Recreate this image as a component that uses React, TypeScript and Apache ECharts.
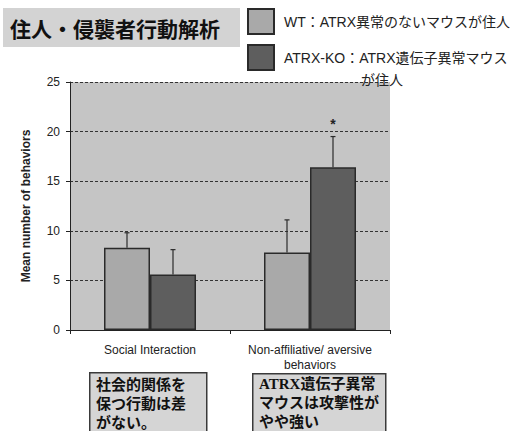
import React, { useEffect, useRef } from "react";
import * as echarts from "echarts";

const categories = ["Social Interaction", "Non-affiliative/ aversive\nbehaviors"];
const seriesNames = ["WT：ATRX異常のないマウスが住人", "ATRX-KO：ATRX遺伝子異常マウス"];
const wtMeans = [8.3, 7.8];
const wtErrorTops = [9.8, 11.1];
const koMeans = [5.6, 16.4];
const koErrorTops = [8.1, 19.5];
const koSignificance = ["", "*"];
const yTicks = { min: 0, max: 25, interval: 5 };
const titleText = "住人・侵襲者行動解析";
const legendContinuation = "が住人";
const note1 = "社会的関係を\n保つ行動は差\nがない。";
const note2 = "ATRX遺伝子異常\nマウスは攻撃性が\nやや強い";
const yAxisName = "Mean number of behaviors";

const CAT_GAP = 0.425;

export default function App() {
  const ref = useRef<HTMLDivElement>(null);
  useEffect(() => {
    if (!ref.current) return;
    const chart = echarts.init(ref.current, null, { renderer: "svg" });
    const latin = "'Liberation Sans', Arial, 'Noto Sans CJK JP', sans-serif";

    const errorSeries = (means: number[], tops: number[], side: number, marks?: string[]) => ({
      type: "custom",
      silent: true,
      z: 5,
      data: means.map((m, i) => [i, m, tops[i], marks ? marks[i] : ""]),
      renderItem: (params: any, api: any) => {
        const idx = api.value(0);
        const base = api.coord([idx, api.value(1)]);
        const top = api.coord([idx, api.value(2)]);
        const band = api.size([1, 0])[0];
        const barW = (band * (1 - CAT_GAP)) / 2;
        const x = base[0] + side * barW / 2;
        const children: any[] = [
          { type: "line", shape: { x1: x, y1: base[1], x2: x, y2: top[1] }, style: { stroke: "#2a2a2a", lineWidth: 1.2 } },
          { type: "line", shape: { x1: x - 2.5, y1: top[1], x2: x + 2.5, y2: top[1] }, style: { stroke: "#2a2a2a", lineWidth: 1.2 } },
        ];
        const mark = api.value(3);
        if (mark) {
          children.push({
            type: "text",
            style: { text: String(mark), x: x, y: top[1] - 6, align: "center", verticalAlign: "bottom", fontSize: 14, fontWeight: "bold", fill: "#222", fontFamily: latin },
          });
        }
        return { type: "group", children };
      },
    });

    chart.setOption({
      animation: false,
      backgroundColor: "#ffffff",
      grid: { left: 70, right: 132, top: 82, bottom: 101, show: true, backgroundColor: "#c5c5c5", borderWidth: 0 },
      legend: {
        orient: "vertical",
        left: 247,
        top: 8,
        padding: 0,
        icon: "rect",
        itemWidth: 26,
        itemHeight: 25,
        itemGap: 9,
        selectedMode: false,
        data: seriesNames,
        textStyle: { fontSize: 14, color: "#222", fontFamily: latin, padding: [0, 0, 0, 5] },
      },
      xAxis: {
        type: "category",
        data: categories,
        axisLine: { lineStyle: { color: "#222", width: 1 } },
        axisTick: { show: true, length: 4, lineStyle: { color: "#222" } },
        axisLabel: { fontSize: 12, color: "#222", fontFamily: latin, margin: 12, lineHeight: 15, interval: 0 },
      },
      yAxis: {
        type: "value",
        min: yTicks.min,
        max: yTicks.max,
        interval: yTicks.interval,
        name: yAxisName,
        nameLocation: "middle",
        nameRotate: 90,
        nameGap: 38,
        nameTextStyle: { fontSize: 12, fontWeight: "bold", color: "#222", fontFamily: latin },
        axisLine: { show: true, lineStyle: { color: "#222", width: 1 } },
        axisTick: { show: true, length: 4, lineStyle: { color: "#222" } },
        axisLabel: { fontSize: 12, color: "#222", fontFamily: latin, margin: 10 },
        splitLine: { show: true, lineStyle: { color: "#333", type: [3, 2], width: 1 } },
      },
      series: [
        {
          name: seriesNames[0],
          type: "bar",
          data: wtMeans,
          barGap: "0%",
          barCategoryGap: CAT_GAP * 100 + "%",
          itemStyle: { color: "#a9a9a9", borderColor: "#2a2a2a", borderWidth: 1.5 },
        },
        {
          name: seriesNames[1],
          type: "bar",
          data: koMeans,
          barGap: "0%",
          barCategoryGap: CAT_GAP * 100 + "%",
          itemStyle: { color: "#5e5e5e", borderColor: "#2a2a2a", borderWidth: 1.5 },
        },
        errorSeries(wtMeans, wtErrorTops, -1),
        errorSeries(koMeans, koErrorTops, 1, koSignificance),
      ],
      graphic: [
        { type: "rect", left: 3, top: 8, shape: { width: 237, height: 39 }, style: { fill: "#d3d3d3" }, z: 1 },
        {
          type: "text", left: 10, top: 17,
          style: { text: titleText, fontSize: 21, fontWeight: "bold", fill: "#111", fontFamily: "'Noto Sans CJK JP', sans-serif" }, z: 2,
        },
        {
          type: "text", left: 361, top: 72,
          style: { text: legendContinuation, fontSize: 14, fill: "#222", fontFamily: "'Noto Sans CJK JP', sans-serif" }, z: 10,
        },
        { type: "rect", left: 89, top: 372, shape: { width: 117, height: 70 }, style: { fill: "#d5d5d5", stroke: "#3a3a3a", lineWidth: 1.5 }, z: 1 },
        {
          type: "text", left: 96, top: 374,
          style: { text: note1, fontSize: 15, fontWeight: "bold", lineHeight: 19, fill: "#111", fontFamily: "'Noto Sans CJK JP', sans-serif" }, z: 2,
        },
        { type: "rect", left: 252, top: 373, shape: { width: 133, height: 70 }, style: { fill: "#d5d5d5", stroke: "#3a3a3a", lineWidth: 1.5 }, z: 1 },
        {
          type: "text", left: 259, top: 374,
          style: { text: note2, fontSize: 15, fontWeight: "bold", lineHeight: 19, fill: "#111", fontFamily: "'Liberation Serif', 'Noto Sans CJK JP', serif" }, z: 2,
        },
      ],
    });
    return () => chart.dispose();
  }, []);
  return <div ref={ref} style={{ position: "absolute", left: 0, top: 0, width: 522, height: 431 }} />;
}
